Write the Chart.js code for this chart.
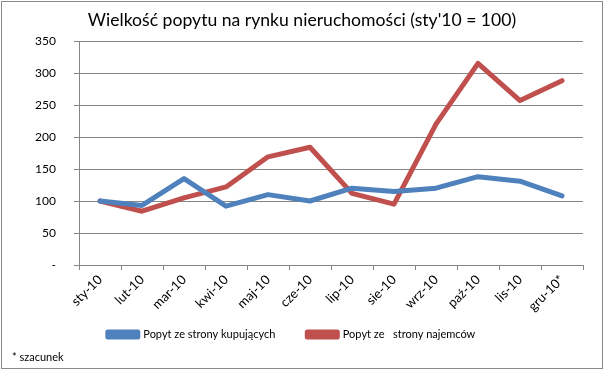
<!DOCTYPE html>
<html>
<head>
<meta charset="utf-8">
<script src="https://cdn.jsdelivr.net/npm/chart.js@4.4.1/dist/chart.umd.min.js"></script>
<style>
  html, body { margin: 0; padding: 0; background: #fff; }
  #wrap { width: 605px; height: 372px; position: relative; }
</style>
</head>
<body>
<div id="wrap"><canvas id="chart" width="605" height="372"></canvas></div>
<script>
var months = ["sty-10", "lut-10", "mar-10", "kwi-10", "maj-10", "cze-10", "lip-10", "sie-10", "wrz-10", "paź-10", "lis-10", "gru-10*"];
var buyers = [100, 93, 135, 92, 110, 100, 120, 115, 120, 138, 131, 108];
var renters = [100, 84, 105, 122, 169, 184, 112, 95, 220, 315, 257, 288];
var yTicks = [0, 50, 100, 150, 200, 250, 300, 350];

var titleText = "Wielkość popytu na rynku nieruchomości (sty'10 = 100)";
var noteText = "* szacunek";
var fontName = "Lato, 'Open Sans', sans-serif";

// title, footnote and outer frame
var extras = {
  id: "extras",
  afterLayout: function (chart) {
    // x labels hang below the (short) axis box, let them show
    chart.scales.x.bottom += 30;
  },
  afterDraw: function (chart) {
    var c = chart.ctx;
    c.save();
    c.strokeStyle = "#8a8a8a";
    c.lineWidth = 1;
    c.strokeRect(1.5, 1.5, 601, 367);
    c.fillStyle = "#000";
    c.font = "17.6px " + fontName;
    c.textAlign = "center";
    c.textBaseline = "middle";
    c.fillText(titleText, 302, 20);
    c.font = "11px " + fontName;
    c.textAlign = "left";
    c.fillText(noteText, 12, 357);
    c.restore();
  }
};

new Chart(document.getElementById("chart"), {
  type: "line",
  data: {
    labels: months,
    datasets: [
      {
        label: "Popyt ze strony kupujących",
        data: buyers,
        borderColor: "#4F81BD",
        backgroundColor: "#4F81BD",
        borderWidth: 5,
        pointRadius: 0,
        tension: 0,
        borderCapStyle: "round",
        borderJoinStyle: "round"
      },
      {
        label: "Popyt ze   strony najemców",
        data: renters,
        borderColor: "#C0504D",
        backgroundColor: "#C0504D",
        borderWidth: 5,
        pointRadius: 0,
        tension: 0,
        borderCapStyle: "round",
        borderJoinStyle: "round"
      }
    ]
  },
  options: {
    responsive: false,
    animation: false,
    layout: { padding: { top: 41, right: 22, bottom: 22, left: 0 } },
    plugins: {
      title: { display: false },
      tooltip: { enabled: false },
      legend: {
        position: "bottom",
        labels: {
          boxWidth: 30,
          boxHeight: 5,
          padding: 32,
          color: "#000",
          font: { family: fontName, size: 11 }
        }
      }
    },
    scales: {
      x: {
        offset: true,
        afterFit: function (s) { s.height = 32; },
        grid: {
          offset: true,
          drawOnChartArea: false,
          drawTicks: true,
          tickLength: 5,
          color: "#868686"
        },
        border: { color: "#868686" },
        ticks: {
          minRotation: 45,
          maxRotation: 45,
          autoSkip: false,
          padding: 2,
          color: "#000",
          font: { family: fontName, size: 13 }
        }
      },
      y: {
        min: 0,
        max: 350,
        afterFit: function (s) { s.width = 79; },
        afterBuildTicks: function (s) {
          s.ticks = yTicks.map(function (v) { return { value: v }; });
        },
        grid: { color: "#868686", tickLength: 5 },
        border: { color: "#868686" },
        ticks: {
          padding: 18,
          color: "#000",
          font: { family: fontName, size: 12 },
          callback: function (v) { return v === 0 ? "-" : v; }
        }
      }
    }
  },
  plugins: [extras]
});
</script>
</body>
</html>
